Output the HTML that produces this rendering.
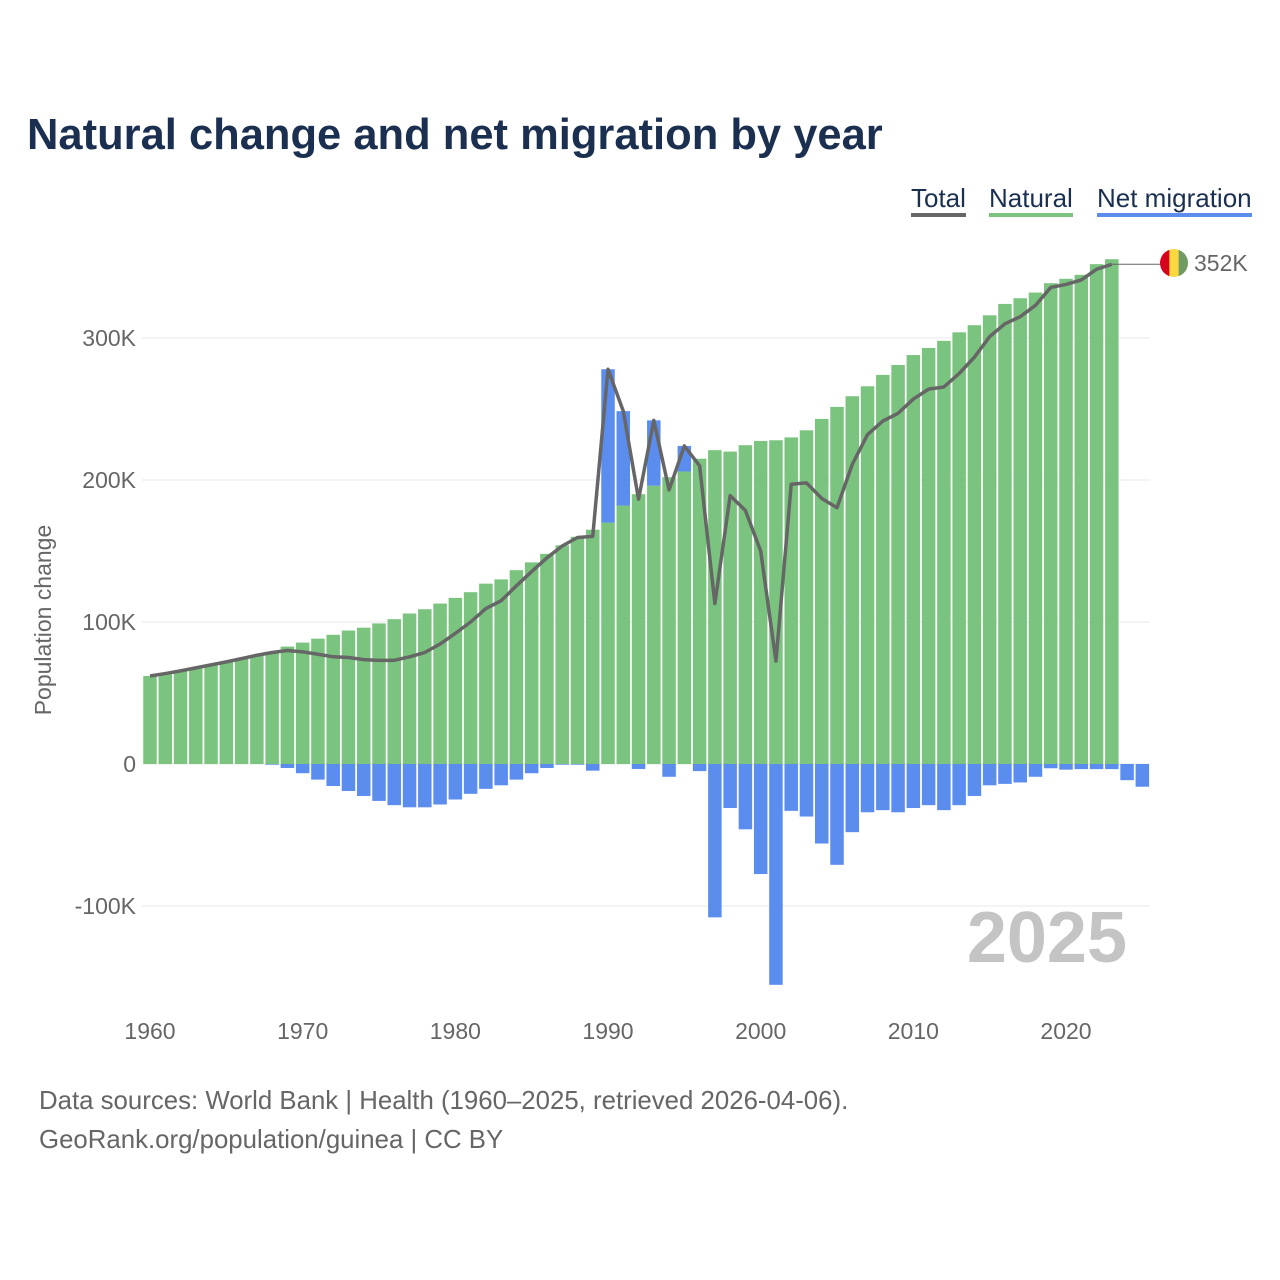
<!DOCTYPE html>
<html><head><meta charset="utf-8"><style>
body{margin:0;background:#fff;font-family:"Liberation Sans",sans-serif}
#wrap{position:relative;width:1280px;height:1280px;overflow:hidden}
.t{position:absolute;white-space:nowrap}
</style></head><body>
<div id="wrap">
<div class="t" style="left:27px;top:111px;font-size:43.5px;font-weight:bold;color:#1b3050">Natural change and net migration by year</div>
<div class="t" style="left:911px;top:183px;font-size:26px;color:#1b3050;border-bottom:4px solid #666;line-height:30px">Total</div>
<div class="t" style="left:989px;top:183px;font-size:26px;color:#1b3050;border-bottom:4px solid #7bc47f;line-height:30px">Natural</div>
<div class="t" style="left:1097px;top:183px;font-size:26px;color:#1b3050;border-bottom:4px solid #5b8def;line-height:30px">Net migration</div>
<svg id="chart" width="1280" height="1280" style="position:absolute;left:0;top:0"></svg>
<div class="t" style="left:39px;top:1087px;font-size:25.8px;color:#666">Data sources: World Bank | Health (1960–2025, retrieved 2026-04-06).</div>
<div class="t" style="left:39px;top:1126px;font-size:25.8px;color:#666">GeoRank.org/population/guinea | CC BY</div>
</div>
<script>
const years=[];for(let y=1960;y<=2025;y++)years.push(y);
const natural=[62,63.7,65.6,67.7,69.8,71.9,74.2,76.6,79,82.7,85.5,88.3,91,94,96,99,102,106,109,113,117,121,127,130,136.5,142,148,154,160,165,170,182,190,196,202,206,215,221,220,224.5,227.5,228,230,235,243,251.5,259,266,274,281,288,293,298,304,309,316,324,328,332,338.6,341.7,344.5,352,355.5,null,null];
const migration=[0,0,0,0,0,0,0,0,-0.5,-2.8,-6.5,-11,-15.5,-19,-22.5,-26,-29,-30.5,-30.5,-28.5,-25,-21,-17.5,-15,-11,-6.5,-2.8,-0.5,-0.5,-4.7,108,66.5,-3.5,46,-9,18,-5,-108,-31,-46,-77.5,-155.5,-33,-37,-56,-71,-48,-34,-32.5,-34,-31,-29,-32.5,-29,-22.5,-15,-14,-13,-9,-3,-4,-3.6,-3.6,-3.6,-11.4,-16];
const yTicks=[-100,0,100,200,300];
const xTicks=[1960,1970,1980,1990,2000,2010,2020];
const NS="http://www.w3.org/2000/svg";
const svg=document.getElementById('chart');
const X=y=>150+(y-1960)*15.267;
const Y=v=>764-v*1.42;
function mk(t,a){const e=document.createElementNS(NS,t);for(const k in a)e.setAttribute(k,a[k]);svg.appendChild(e);return e;}
yTicks.forEach(v=>{
 const g=mk('line',{x1:142,x2:1150,y1:Y(v),y2:Y(v),stroke:'#e8e8e8','stroke-width':1});
 
 
 const t=mk('text',{x:136,y:Y(v)+8,'text-anchor':'end','font-size':23,fill:'#666','font-family':'Liberation Sans, sans-serif'});
 t.textContent=v===0?'0':v+'K';
 
 
});
xTicks.forEach(v=>{
 const t=mk('text',{x:X(v),y:1039,'text-anchor':'middle','font-size':23,fill:'#666','font-family':'Liberation Sans, sans-serif'});
 t.textContent=v;
 
 
});
const yt=mk('text',{x:0,y:0,transform:'translate(51,620) rotate(-90)','text-anchor':'middle','font-size':23,fill:'#666','font-family':'Liberation Sans, sans-serif'});
yt.textContent='Population change';


const wm=mk('text',{x:1127,y:962,'text-anchor':'end','font-size':72,'font-weight':'bold',fill:'#c4c4c4','font-family':'Liberation Sans, sans-serif'});
wm.textContent='2025';


const bw=13.5;
years.forEach((yr,i)=>{
 const n=natural[i],m=migration[i],x=X(yr)-bw/2;
 if(n!=null){
  const r=mk('rect',{x:x,y:Y(n),width:bw,height:Y(0)-Y(n),fill:'#7bc47f'});
  
  
 }
 if(m){
  let y0,y1;
  if(m<0){y0=Y(0);y1=Y(m);}else{y0=Y((n||0)+m);y1=Y(n||0);}
  const r=mk('rect',{x:x,y:y0,width:bw,height:y1-y0,fill:'#5b8def'});
  
  
 }
});
let pts=[];
years.forEach((yr,i)=>{if(natural[i]!=null){pts.push(X(yr)+','+Y(natural[i]+migration[i]));}});
const pl=mk('polyline',{points:pts.join(' '),fill:'none',stroke:'#666','stroke-width':3.5,'stroke-linejoin':'round'});


const li=natural.length-3,lastY=Y(natural[li]+migration[li]);
const ld=mk('line',{x1:X(2023),x2:1162,y1:lastY,y2:lastY,stroke:'#666','stroke-width':1});


const cx=1174,cy=263,r=14;
const defs=mk('defs',{});const cp=document.createElementNS(NS,'clipPath');cp.setAttribute('id','fc');const cc=document.createElementNS(NS,'circle');cc.setAttribute('cx',cx);cc.setAttribute('cy',cy);cc.setAttribute('r',r);cp.appendChild(cc);defs.appendChild(cp);
const fg=mk('g',{'clip-path':'url(#fc)'});


[['#d7001f',0],['#fcd83f',1],['#6f9a62',2]].forEach(([c,k])=>{const e=document.createElementNS(NS,'rect');e.setAttribute('x',cx-r+k*r*2/3);e.setAttribute('y',cy-r);e.setAttribute('width',r*2/3+0.5);e.setAttribute('height',2*r);e.setAttribute('fill',c);fg.appendChild(e);});
const el=mk('text',{x:1194,y:271,'font-size':23,fill:'#666','font-family':'Liberation Sans, sans-serif'});
el.textContent='352K';


</script>
</body></html>
